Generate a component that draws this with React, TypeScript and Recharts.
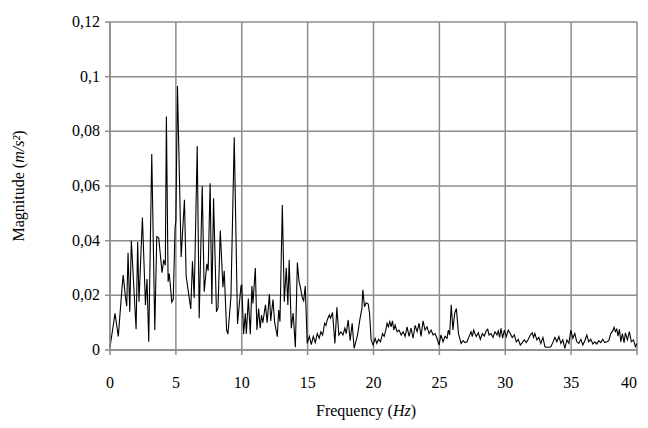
import React from "react";
import { LineChart, Line, XAxis, YAxis, CartesianGrid } from "recharts";

const freq: number[] = [
  0, 0.38, 0.63, 0.9, 1.0, 1.17, 1.27, 1.37, 1.5, 1.62, 1.98, 2.1, 2.2, 2.46, 2.69, 2.81, 2.94,
  3.17, 3.4, 3.55, 3.7, 3.95, 4.08, 4.2, 4.28, 4.41, 4.5, 4.69, 4.8, 4.94, 5.0, 5.12,
  5.4, 5.65, 5.78, 6.13, 6.26, 6.39, 6.62, 6.77, 7.0, 7.15, 7.35, 7.45, 7.6, 7.73, 7.86,
  8.08, 8.2, 8.37, 8.57, 8.67, 8.85, 8.95, 9.18, 9.43, 9.68, 9.94, 10.0,
  10.14, 10.27, 10.35, 10.5, 10.65, 10.77, 10.85, 11.03, 11.15, 11.28, 11.4, 11.5, 11.6,
  11.8, 11.93, 12.1, 12.2, 12.37, 12.5, 12.7, 12.8, 12.9, 13.08, 13.23, 13.38, 13.5, 13.6,
  13.76, 13.9, 14.07, 14.22, 14.35, 14.45, 14.6, 14.7, 14.82, 14.97,
  15.13, 15.28, 15.43, 15.58, 15.73, 15.88, 16.01, 16.14, 16.29, 16.39, 16.49, 16.64, 16.74,
  16.89, 17.07, 17.22, 17.37, 17.52, 17.68, 17.83, 17.93, 18.08, 18.23, 18.38, 18.53, 18.79,
  18.96, 19.12, 19.19, 19.32, 19.44, 19.6, 19.7, 19.82, 19.97, 20.12, 20.25, 20.38, 20.53,
  20.68, 20.81, 20.93, 21.03, 21.13, 21.24, 21.34, 21.44, 21.54, 21.64, 21.79, 21.94, 22.1,
  22.25, 22.4, 22.55, 22.7, 22.85, 23.0, 23.16, 23.31, 23.46, 23.61, 23.76, 23.91, 24.06,
  24.22, 24.37, 24.52, 24.67, 24.82, 24.97, 25.12, 25.28, 25.43, 25.58, 25.68, 25.78, 25.9,
  26.03, 26.16, 26.29, 26.45, 26.65, 26.8, 26.95, 27.1, 27.25, 27.4, 27.5, 27.6, 27.7, 27.8,
  27.96, 28.11, 28.26, 28.41, 28.56, 28.67, 28.77, 28.92, 29.07, 29.22, 29.37, 29.47, 29.57,
  29.68, 29.8, 29.93, 30.08, 30.23, 30.38, 30.53, 30.69, 30.84, 30.99, 31.14, 31.29, 31.44,
  31.6, 31.75, 31.9, 32.05, 32.15, 32.25, 32.4, 32.55, 32.7, 32.86, 33.01, 33.16, 33.31,
  33.46, 33.61, 33.77, 33.92, 34.07, 34.22, 34.37, 34.52, 34.68, 34.83, 34.98, 35.13, 35.28,
  35.43, 35.58, 35.74, 35.89, 36.04, 36.19, 36.34, 36.49, 36.65, 36.8, 36.95, 37.1, 37.25,
  37.4, 37.55, 37.71, 37.86, 38.01, 38.16, 38.26, 38.36, 38.46, 38.56, 38.67, 38.77, 38.89,
  39.02, 39.12, 39.27, 39.42, 39.57, 39.73, 39.88, 40.0,
];

const magnitude: number[] = [
  0.001, 0.0134, 0.005, 0.022, 0.0274, 0.0195, 0.016, 0.0356, 0.014, 0.04, 0.0076, 0.0396, 0.0177, 0.0485, 0.0165, 0.026, 0.003,
  0.0717, 0.0073, 0.0415, 0.041, 0.0283, 0.033, 0.031, 0.0854, 0.025, 0.028, 0.0175, 0.0185, 0.045, 0.047, 0.0966,
  0.034, 0.055, 0.027, 0.015, 0.0325, 0.019, 0.0746, 0.0116, 0.06, 0.0213, 0.0315, 0.029, 0.061, 0.0168, 0.0555,
  0.014, 0.0155, 0.0437, 0.023, 0.029, 0.0073, 0.0058, 0.0195, 0.0778, 0.0095, 0.0234, 0.024,
  0.0058, 0.0134, 0.006, 0.0188, 0.0058, 0.0234, 0.017, 0.03, 0.0073, 0.0152, 0.008, 0.0128, 0.01,
  0.0165, 0.01, 0.0205, 0.0106, 0.0185, 0.01, 0.0049, 0.0146, 0.0104, 0.053, 0.0177, 0.0301, 0.0165, 0.033,
  0.008, 0.0135, 0.001, 0.032, 0.025, 0.023, 0.019, 0.018, 0.0234, 0.0024,
  0.005, 0.002, 0.005, 0.0027, 0.006, 0.0043, 0.0067, 0.0055, 0.0098, 0.009, 0.011, 0.0128, 0.0116,
  0.0137, 0.0024, 0.0156, 0.0055, 0.0067, 0.0055, 0.008, 0.006, 0.011, 0.0034, 0.0098, 0.0006, 0.0055,
  0.011, 0.0152, 0.022, 0.0158, 0.0173, 0.0168, 0.0134, 0.0037, 0.0018, 0.0043, 0.0024, 0.0039, 0.003,
  0.006, 0.005, 0.0073, 0.0098, 0.0085, 0.0104, 0.0085, 0.0107, 0.0073, 0.0091, 0.0067, 0.0073, 0.0055,
  0.0067, 0.005, 0.0085, 0.005, 0.008, 0.0043, 0.009, 0.0067, 0.0098, 0.005, 0.0107, 0.0073, 0.0085,
  0.006, 0.0073, 0.0055, 0.006, 0.0043, 0.0018, 0.0055, 0.003, 0.005, 0.0043, 0.0073, 0.0055, 0.0165,
  0.0073, 0.0134, 0.0152, 0.006, 0.0024, 0.0034, 0.0027, 0.003, 0.0049, 0.0067, 0.0049, 0.0073, 0.006, 0.0049,
  0.0063, 0.0039, 0.006, 0.0051, 0.007, 0.0076, 0.0055, 0.006, 0.0046, 0.0067, 0.0055, 0.007, 0.0046,
  0.0079, 0.0043, 0.0073, 0.0049, 0.0073, 0.006, 0.0046, 0.0055, 0.003, 0.0039, 0.0018, 0.0027, 0.0037,
  0.0027, 0.0039, 0.0055, 0.0063, 0.0046, 0.006, 0.0037, 0.0046, 0.0024, 0.0046, 0.0012, 0.001, 0.001,
  0.0012, 0.0027, 0.0046, 0.003, 0.0049, 0.0024, 0.0037, 0.0006, 0.0037, 0.0024, 0.0073, 0.0043, 0.006,
  0.003, 0.0024, 0.0039, 0.0018, 0.0034, 0.0055, 0.003, 0.0039, 0.0022, 0.003, 0.0022, 0.0034, 0.0027,
  0.0039, 0.0027, 0.003, 0.0034, 0.006, 0.007, 0.0083, 0.0067, 0.0076, 0.0051, 0.0076, 0.003, 0.006,
  0.0027, 0.0063, 0.0037, 0.0067, 0.003, 0.0037, 0.0012, 0.0024,
];

const xTicks: number[] = [0, 5, 10, 15, 20, 25, 30, 35, 40];
const yTicks: number[] = [0, 0.02, 0.04, 0.06, 0.08, 0.1, 0.12];

const data = freq.map((f, i) => ({ f, m: magnitude[i] }));

const FONT = "'Liberation Serif', 'Times New Roman', serif";
const GRID = "#8c8c8c";
const textStyle: React.CSSProperties = { fontFamily: FONT, fontSize: 16, fill: "#000" };

const fmtY = (v: number) => (v === 0 ? "0" : String(Number(v.toFixed(2))).replace(".", ","));

const XTick = (props: any) => {
  const { x, y, payload, index, visibleTicksCount } = props;
  const isLast = visibleTicksCount != null ? index === visibleTicksCount - 1 : payload.value === 40;
  return (
    <g>
      <text
        x={x}
        y={y}
        dy={11}
        textAnchor={isLast ? "end" : "middle"}
        style={textStyle}
      >
        {String(payload.value)}
      </text>
    </g>
  );
};

const YTick = (props: any) => {
  const { x, y, payload } = props;
  return (
    <g>
      <text x={x} y={y} dy={5} textAnchor="end" style={textStyle}>
        {fmtY(payload.value)}
      </text>
    </g>
  );
};

const YTitle = () => (
  <text transform="rotate(-90)" x={-186} y={24} textAnchor="middle" style={textStyle}>
    Magnitude (<tspan fontStyle="italic">m/s²</tspan>)
  </text>
);

const XTitle = () => (
  <text x={366} y={416} textAnchor="middle" style={textStyle}>
    Frequency (<tspan fontStyle="italic">Hz</tspan>)
  </text>
);

export default function App() {
  return (
    <div style={{ margin: -8, width: 648, height: 428, overflow: "hidden", fontFamily: FONT }}>
      <LineChart
        width={648}
        height={428}
        data={data}
        margin={{ top: 22, right: 11, bottom: 0, left: 0 }}
        style={{ fontFamily: FONT }}
      >
        <CartesianGrid stroke={GRID} strokeWidth={1.5} />
        <XAxis
          type="number"
          dataKey="f"
          domain={[0, 40]}
          ticks={xTicks}
          interval={0}
          height={78}
          tickSize={5}
          tickMargin={22}
          stroke={GRID}
          strokeWidth={1.5}
          tick={<XTick />}
          label={<XTitle />}
        />
        <YAxis
          type="number"
          domain={[0, 0.12]}
          ticks={yTicks}
          interval={0}
          width={110}
          tickSize={5}
          tickMargin={5}
          stroke={GRID}
          strokeWidth={1.5}
          tick={<YTick />}
          label={<YTitle />}
        />
        <Line
          type="linear"
          dataKey="m"
          stroke="#000"
          strokeWidth={1.1}
          dot={false}
          isAnimationActive={false}
        />
      </LineChart>
    </div>
  );
}
